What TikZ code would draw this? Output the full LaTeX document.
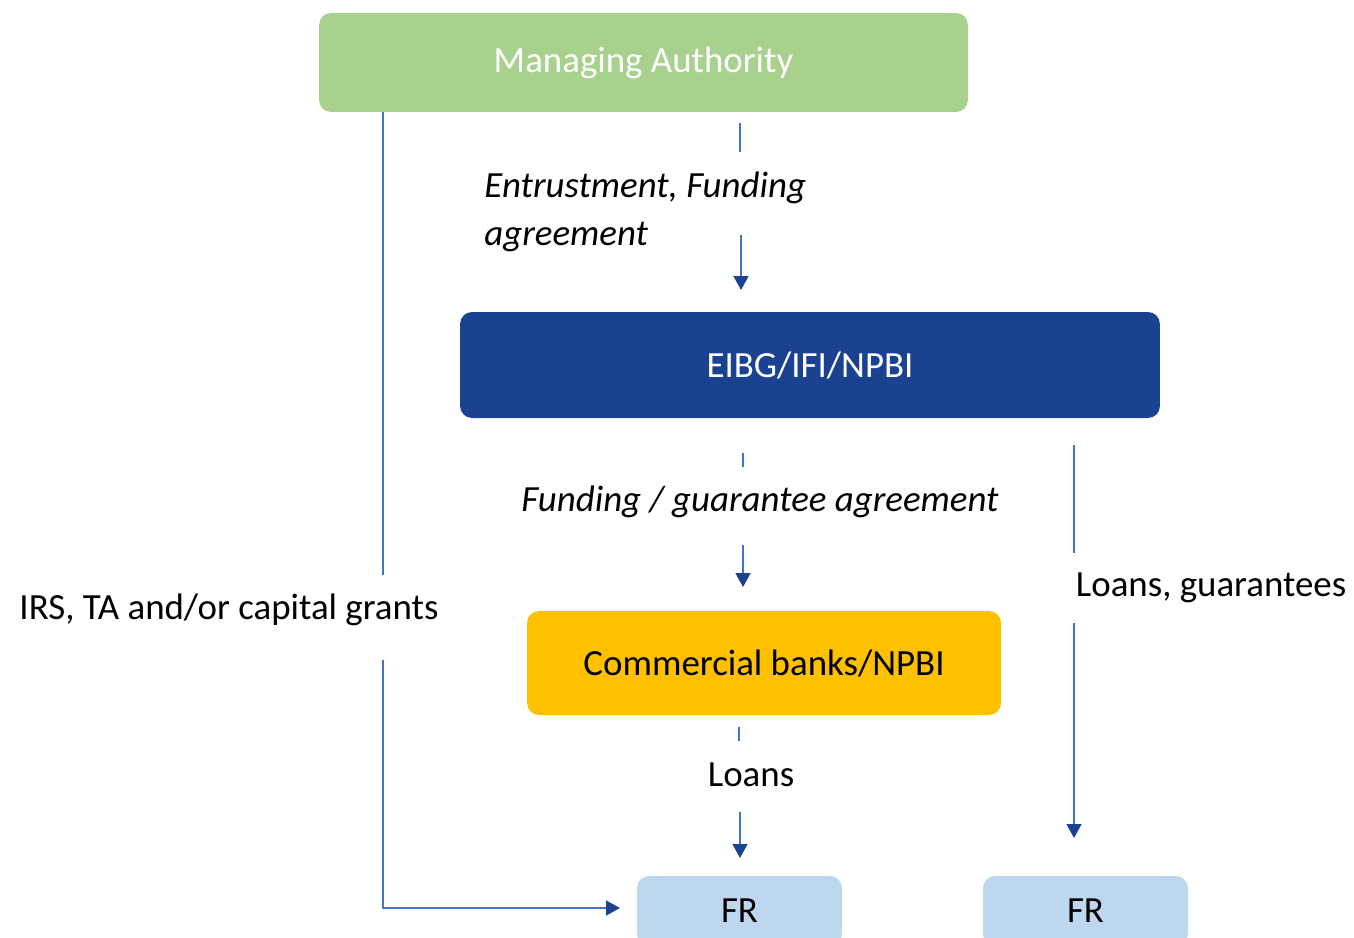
\documentclass[tikz,border=0pt]{standalone}
\usepackage{fontspec}
\setmainfont{Carlito}
\usetikzlibrary{arrows.meta}
\definecolor{magreen}{HTML}{A9D18E}
\definecolor{eibblue}{HTML}{1B4191}
\definecolor{cbyellow}{HTML}{FFC000}
\definecolor{frblue}{HTML}{BDD7EE}
\definecolor{lineblue}{HTML}{4472C4}
\tikzset{
  box/.style={rounded corners=0.24cm, inner sep=0, font=\fontsize{21}{25}\selectfont},
  lbl/.style={inner sep=0, font=\fontsize{21}{27}\selectfont},
  flow/.style={draw=lineblue, line width=0.8pt},
  arr/.style={flow, -{Triangle[length=0.28cm, width=0.3cm, color=eibblue, fill=eibblue]}}
}
\begin{document}
\begin{tikzpicture}[x=0.02cm, y=-0.02cm]
\useasboundingbox (0,0) rectangle (1354,937);
\begin{scope}
\clip (0,0) rectangle (1354,937);
\node[box, fill=magreen, text=white, minimum width=12.98cm, minimum height=1.98cm] (ma) at (643.5, 62.5) {Managing Authority};
\node[box, fill=eibblue, text=white, minimum width=14cm, minimum height=2.12cm] (eib) at (810, 365) {EIBG/IFI/NPBI};
\node[box, fill=cbyellow, minimum width=9.48cm, minimum height=2.08cm] (cb) at (764, 663) {Commercial banks/NPBI};
\node[box, fill=frblue, minimum width=4.1cm, minimum height=1.4cm] (frl) at (739.5, 911) {FR};
\node[box, fill=frblue, minimum width=4.1cm, minimum height=1.4cm] (frr) at (1085.5, 911) {FR};
\end{scope}
% labels
\node[lbl, align=left, anchor=west, font=\fontsize{21}{27}\selectfont\itshape] (entr) at (484, 212) {Entrustment, Funding\\agreement};
\node[lbl, font=\fontsize{21}{27}\selectfont\itshape] (fga) at (760, 502) {Funding / guarantee agreement};
\node[lbl] (loans) at (751, 775) {Loans};
\node[lbl] (lg) at (1211, 588) {Loans, guarantees};
\node[lbl] (irs) at (229, 610) {IRS, TA and/or capital grants};
% connectors
\coordinate (a1) at (740, 123); \coordinate (a2) at (740, 152);
\coordinate (a3) at (741, 235); \coordinate (a4) at (741, 290);
\coordinate (b1) at (743, 453); \coordinate (b2) at (743, 467);
\coordinate (b3) at (743, 545); \coordinate (b4) at (743, 587);
\coordinate (c1) at (739, 727); \coordinate (c2) at (739, 741);
\coordinate (c3) at (740, 812); \coordinate (c4) at (740, 858);
\coordinate (d1) at (1074, 445); \coordinate (d2) at (1074, 553);
\coordinate (d3) at (1074, 623); \coordinate (d4) at (1074, 838);
\coordinate (e1) at (383, 575); \coordinate (e2) at (383, 660);
\coordinate (e3) at (383, 908); \coordinate (e4) at (620, 908);
\draw[flow] (a1) -- (a2);
\draw[arr] (a3) -- (a4);
\draw[flow] (b1) -- (b2);
\draw[arr] (b3) -- (b4);
\draw[flow] (c1) -- (c2);
\draw[arr] (c3) -- (c4);
\draw[flow] (d1) -- (d2);
\draw[arr] (d3) -- (d4);
\draw[flow] (ma.south -| e1) -- (e1);
\draw[arr] (e2) -- (e3) -- (e4);
\end{tikzpicture}
\end{document}
